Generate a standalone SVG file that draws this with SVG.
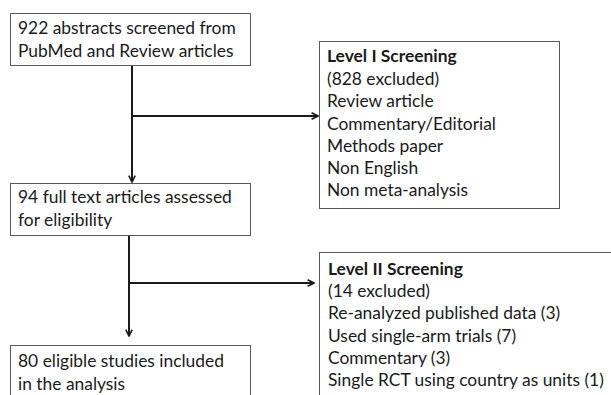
<svg xmlns="http://www.w3.org/2000/svg" width="611" height="395" viewBox="0 0 611 395">
<defs>
<style>
.box{fill:#fff;stroke:#5a5a5a;stroke-width:1}
.t{font-family:"Lato","Liberation Sans",sans-serif;font-size:17.4px;fill:#1a1a1a}
.b{font-weight:bold}
.c{fill:none;stroke:#1a1a1a;stroke-width:2}
</style>
<marker id="ah" viewBox="0 0 10 10" refX="9" refY="5" markerWidth="4" markerHeight="4" orient="auto" markerUnits="strokeWidth">
<path d="M1,1 L9,5 L1,9" fill="none" stroke="#1a1a1a" stroke-width="2"/>
</marker>
</defs>
<rect width="611" height="395" fill="#fff"/>
<g id="connectors">
<line class="c" x1="132" y1="66" x2="132" y2="182" marker-end="url(#ah)"/>
<line class="c" x1="132" y1="116" x2="318" y2="116" marker-end="url(#ah)"/>
<line class="c" x1="129" y1="236" x2="129" y2="336" marker-end="url(#ah)"/>
<line class="c" x1="129" y1="283" x2="314" y2="283" marker-end="url(#ah)"/>
</g>
<g id="n1">
<rect class="box" x="10.5" y="13.5" width="240" height="52"/>
<text class="t" x="18" y="34">922 abstracts screened from</text>
<text class="t" x="18" y="57">PubMed and Review articles</text>
</g>
<g id="n2">
<rect class="box" x="319.5" y="41.5" width="240" height="167"/>
<text class="t b" x="327" y="62">Level I Screening</text>
<text class="t" x="327" y="85">(828 excluded)</text>
<text class="t" x="327" y="107">Review article</text>
<text class="t" x="327" y="130">Commentary/Editorial</text>
<text class="t" x="327" y="152">Methods paper</text>
<text class="t" x="327" y="174">Non English</text>
<text class="t" x="327" y="196">Non meta-analysis</text>
</g>
<g id="n3">
<rect class="box" x="10.5" y="183.5" width="240" height="52"/>
<text class="t" x="18" y="203">94 full text articles assessed</text>
<text class="t" x="18" y="226">for eligibility</text>
</g>
<g id="n4">
<rect class="box" x="10.5" y="345.5" width="240" height="60"/>
<text class="t" x="18" y="367">80 eligible studies included</text>
<text class="t" x="18" y="390">in the analysis</text>
</g>
<g id="n5">
<rect class="box" x="319.5" y="252.5" width="300" height="160"/>
<text class="t b" x="328" y="275">Level II Screening</text>
<text class="t" x="328" y="297">(14 excluded)</text>
<text class="t" x="328" y="319">Re-analyzed published data (3)</text>
<text class="t" x="328" y="342">Used single-arm trials (7)</text>
<text class="t" x="328" y="364">Commentary (3)</text>
<text class="t" x="328" y="386">Single RCT using country as units (1)</text>
</g>
</svg>
